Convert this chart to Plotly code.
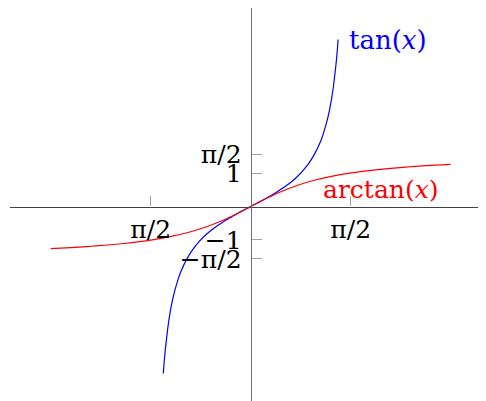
import plotly.graph_objects as go

# values
tan_x = [-1.373, -1.36, -1.34, -1.32, -1.3, -1.27, -1.24, -1.2, -1.15, -1.1,
         -1.0, -0.9, -0.8, -0.7, -0.6, -0.5, -0.4, -0.3, -0.2, -0.1, 0.0,
         0.1, 0.2, 0.3, 0.4, 0.5, 0.6, 0.7, 0.8, 0.9, 1.0,
         1.1, 1.15, 1.2, 1.24, 1.27, 1.3, 1.32, 1.34, 1.36, 1.373]
tan_y = [-5.0, -4.67, -4.26, -3.93, -3.6, -3.22, -2.91, -2.57, -2.24, -1.96,
         -1.56, -1.26, -1.03, -0.84, -0.68, -0.55, -0.42, -0.31, -0.2, -0.1, 0.0,
         0.1, 0.2, 0.31, 0.42, 0.55, 0.68, 0.84, 1.03, 1.26, 1.56,
         1.96, 2.24, 2.57, 2.91, 3.22, 3.6, 3.93, 4.26, 4.67, 5.0]

atan_x = [-3.14, -2.75, -2.5, -2.25, -2.0, -1.75, -1.5, -1.25, -1.0, -0.75,
          -0.5, -0.25, 0.0, 0.25, 0.5, 0.75, 1.0, 1.25, 1.5, 1.75,
          2.0, 2.25, 2.5, 2.75, 3.14]
atan_y = [-1.263, -1.222, -1.19, -1.152, -1.107, -1.052, -0.983, -0.896, -0.785, -0.644,
          -0.464, -0.245, 0.0, 0.245, 0.464, 0.644, 0.785, 0.896, 0.983, 1.052,
          1.107, 1.152, 1.19, 1.222, 1.263]

HALF_PI = 1.5708
x_tickvals = [-HALF_PI, HALF_PI]
x_ticktext = ['π/2', 'π/2']
y_tickvals = [-HALF_PI, -1, 1, HALF_PI]
y_ticktext = ['−π/2', '−1', '1', 'π/2']

FONT = 'DejaVu Serif'
x_range = [-3.781, 3.696]
y_range = [-5.823, 5.943]

fig = go.Figure()

fig.add_trace(
    go.Scatter(
        x=tan_x,
        y=tan_y,
        mode='lines',
        line=dict(color='#0000ff', width=1.2, shape='spline'),
        showlegend=False
    )
)

fig.add_trace(
    go.Scatter(
        x=atan_x,
        y=atan_y,
        mode='lines',
        line=dict(color='#ff0000', width=1.2, shape='spline'),
        showlegend=False
    )
)

# curve labels
fig.add_annotation(
    x=tan_x[-1], y=tan_y[-1],
    text='tan(<i>x</i>)',
    showarrow=False,
    xanchor='left', yanchor='middle',
    xshift=9,
    font=dict(family=FONT, size=26, color='#0000ff')
)
fig.add_annotation(
    x=2.04, y=0.52,
    text='arctan(<i>x</i>)',
    showarrow=False,
    xanchor='center', yanchor='middle',
    font=dict(family=FONT, size=25, color='#ff0000')
)

# axes crossing at the origin
x_pos = (0 - y_range[0]) / (y_range[1] - y_range[0])
y_pos = (0 - x_range[0]) / (x_range[1] - x_range[0])

# page body adds 8px around the figure
fig.update_layout(
    width=478,
    height=393,
    margin=dict(l=2, r=0, t=0, b=0),
    plot_bgcolor='white',
    paper_bgcolor='white',
    font=dict(family=FONT, size=25, color='black'),

    xaxis=dict(
        range=x_range,
        anchor='free',
        position=x_pos,
        automargin=False,
        showgrid=False,
        zeroline=False,
        showline=True,
        linecolor='#404040',
        linewidth=1.3,
        ticks='inside',
        ticklen=10,
        tickcolor='#a0a0a0',
        tickwidth=1,
        tickvals=x_tickvals,
        ticktext=x_ticktext,
        ticklabelstandoff=0
    ),

    yaxis=dict(
        range=y_range,
        anchor='free',
        position=y_pos,
        automargin=False,
        showgrid=False,
        zeroline=False,
        showline=True,
        linecolor='#707070',
        linewidth=1.3,
        ticks='inside',
        ticklen=10,
        tickcolor='#a0a0a0',
        tickwidth=1,
        tickvals=y_tickvals,
        ticktext=y_ticktext,
        ticklabelstandoff=4
    )
)

fig.write_html("out.html")
